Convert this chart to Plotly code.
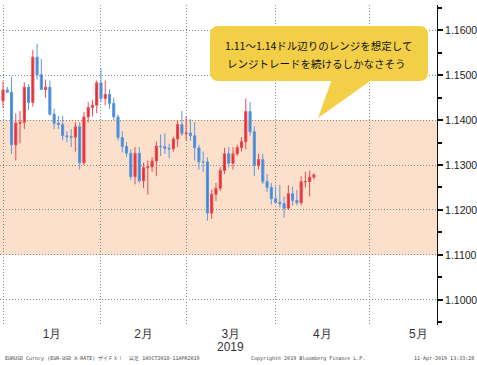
import pandas as pd
import plotly.graph_objects as go

# ---- data (EUR/USD daily) ----
dates = pd.bdate_range("2018-12-31", "2019-04-11")
opens = [1.1443, 1.1467, 1.1462, 1.1345, 1.1393, 1.1395, 1.1473, 1.1439, 1.1540, 1.1501,
         1.1468, 1.1473, 1.1413, 1.1393, 1.1390, 1.1365, 1.1363, 1.1362, 1.1385, 1.1305,
         1.1407, 1.1428, 1.1433, 1.1483, 1.1448, 1.1457, 1.1437, 1.1407, 1.1361, 1.1341,
         1.1326, 1.1274, 1.1326, 1.1265, 1.1294, 1.1296, 1.1309, 1.1342, 1.1341, 1.1337,
         1.1336, 1.1358, 1.1390, 1.1370, 1.1371, 1.1365, 1.1338, 1.1307, 1.1307, 1.1193,
         1.1235, 1.1248, 1.1288, 1.1325, 1.1304, 1.1325, 1.1339, 1.1352, 1.1419, 1.1374,
         1.1299, 1.1312, 1.1263, 1.1250, 1.1225, 1.1217, 1.1214, 1.1204, 1.1236, 1.1221,
         1.1216, 1.1263, 1.1263, 1.1273]
highs = [1.1486, 1.1474, 1.1497, 1.1415, 1.1420, 1.1484, 1.1480, 1.1556, 1.1570, 1.1536,
         1.1490, 1.1488, 1.1425, 1.1409, 1.1410, 1.1375, 1.1380, 1.1395, 1.1395, 1.1418,
         1.1440, 1.1445, 1.1488, 1.1514, 1.1488, 1.1468, 1.1450, 1.1412, 1.1375, 1.1351,
         1.1335, 1.1340, 1.1340, 1.1305, 1.1310, 1.1318, 1.1352, 1.1368, 1.1370, 1.1347,
         1.1363, 1.1400, 1.1420, 1.1408, 1.1402, 1.1395, 1.1345, 1.1330, 1.1317, 1.1245,
         1.1260, 1.1295, 1.1338, 1.1340, 1.1340, 1.1345, 1.1362, 1.1448, 1.1440, 1.1386,
         1.1325, 1.1325, 1.1280, 1.1260, 1.1252, 1.1256, 1.1230, 1.1255, 1.1252, 1.1245,
         1.1275, 1.1285, 1.1288, 1.1282]
lows = [1.1427, 1.1460, 1.1325, 1.1310, 1.1348, 1.1380, 1.1422, 1.1430, 1.1490, 1.1470,
        1.1450, 1.1410, 1.1380, 1.1380, 1.1355, 1.1350, 1.1340, 1.1330, 1.1290, 1.1300,
        1.1395, 1.1408, 1.1415, 1.1440, 1.1433, 1.1425, 1.1400, 1.1355, 1.1328, 1.1318,
        1.1267, 1.1257, 1.1260, 1.1249, 1.1234, 1.1285, 1.1275, 1.1320, 1.1325, 1.1315,
        1.1330, 1.1340, 1.1365, 1.1355, 1.1354, 1.1310, 1.1290, 1.1285, 1.1176, 1.1180,
        1.1220, 1.1242, 1.1280, 1.1295, 1.1290, 1.1320, 1.1330, 1.1335, 1.1365, 1.1275,
        1.1290, 1.1258, 1.1240, 1.1212, 1.1215, 1.1205, 1.1183, 1.1200, 1.1210, 1.1210,
        1.1210, 1.1250, 1.1230, 1.1268]
closes = [1.1467, 1.1462, 1.1345, 1.1393, 1.1395, 1.1473, 1.1439, 1.1540, 1.1501, 1.1468,
          1.1473, 1.1413, 1.1393, 1.1390, 1.1365, 1.1363, 1.1362, 1.1385, 1.1305, 1.1407,
          1.1428, 1.1433, 1.1483, 1.1448, 1.1457, 1.1437, 1.1407, 1.1361, 1.1341, 1.1326,
          1.1274, 1.1326, 1.1265, 1.1294, 1.1296, 1.1309, 1.1342, 1.1341, 1.1337, 1.1336,
          1.1358, 1.1390, 1.1370, 1.1371, 1.1365, 1.1338, 1.1307, 1.1307, 1.1193, 1.1235,
          1.1248, 1.1288, 1.1325, 1.1304, 1.1325, 1.1339, 1.1352, 1.1419, 1.1374, 1.1299,
          1.1312, 1.1263, 1.1250, 1.1225, 1.1217, 1.1214, 1.1204, 1.1236, 1.1221, 1.1216,
          1.1263, 1.1263, 1.1273, 1.1278]

month_labels = ["1月", "2月", "3月", "4月", "5月"]
month_label_pos = ["2019-01-15 12:00", "2019-02-14", "2019-03-14 12:00", "2019-04-15", "2019-05-15 12:00"]
month_grid = ["2018-12-31", "2019-01-31", "2019-02-28", "2019-03-29", "2019-04-30"]
range_low, range_high = 1.11, 1.14
callout_lines = ["1.11～1.14ドル辺りのレンジを想定して", "レンジトレードを続けるしかなさそう"]
footer_left = "EURUSD Curncy (EUR-USD X-RATE) ザイＦＸ！  日足 10OCT2018-11APR2019"
footer_mid = "Copyright© 2019 Bloomberg Finance L.P."
footer_right = "11-Apr-2019 13:33:28"

# ---- figure ----
W, H = 477, 365
L, R, T, B = 0, 40, 5, 40
PW, PH = W - L - R, H - T - B


def px(x):
    return (x - L) / PW


def py(y):
    return (H - B - y) / PH


fig = go.Figure()
fig.add_trace(go.Candlestick(
    x=dates, open=opens, high=highs, low=lows, close=closes,
    increasing=dict(fillcolor="#e62a30", line=dict(color="#ea4a50", width=1)),
    decreasing=dict(fillcolor="#3f86d6", line=dict(color="#5a98de", width=1)),
    whiskerwidth=0, hoverinfo="skip",
))

shapes = [
    dict(type="rect", xref="paper", yref="y", x0=0, x1=1, y0=range_low, y1=range_high,
         fillcolor="#fde0cc", line=dict(width=0), layer="below"),
]
# callout box (rounded) and its pointer
x0, x1, y0, y1, r = 210, 428, 26, 81, 9
rx, ry = r / PW, r / PH
X0, X1, Y0, Y1 = px(x0), px(x1), py(y0), py(y1)
box = (f"M {X0+rx:.5f},{Y0:.5f} L {X1-rx:.5f},{Y0:.5f} Q {X1:.5f},{Y0:.5f} {X1:.5f},{Y0-ry:.5f} "
       f"L {X1:.5f},{Y1+ry:.5f} Q {X1:.5f},{Y1:.5f} {X1-rx:.5f},{Y1:.5f} "
       f"L {X0+rx:.5f},{Y1:.5f} Q {X0:.5f},{Y1:.5f} {X0:.5f},{Y1+ry:.5f} "
       f"L {X0:.5f},{Y0-ry:.5f} Q {X0:.5f},{Y0:.5f} {X0+rx:.5f},{Y0:.5f} Z")
tail = f"M {px(332):.5f},{py(79):.5f} L {px(373):.5f},{py(79):.5f} L {px(318):.5f},{py(118):.5f} Z"
for p in (box, tail):
    shapes.append(dict(type="path", xref="paper", yref="paper", path=p,
                       fillcolor="#f2cf47", line=dict(width=0), layer="above"))

cj = "Noto Sans CJK JP"
annotations = [
    dict(xref="paper", yref="paper", x=px(319), y=py(45), xanchor="center", yanchor="middle",
         text=callout_lines[0], showarrow=False, font=dict(size=10.5, color="#111", family=cj)),
    dict(xref="paper", yref="paper", x=px(316), y=py(63), xanchor="center", yanchor="middle",
         text=callout_lines[1], showarrow=False, font=dict(size=10.5, color="#111", family=cj)),
    dict(xref="x", yref="paper", x=month_label_pos[2], y=py(347), xanchor="center", yanchor="middle",
         text="2019", showarrow=False, font=dict(size=12, color="#333", family="Liberation Sans")),
    dict(xref="paper", yref="paper", x=px(3), y=py(358), xanchor="left", yanchor="middle",
         text=footer_left, showarrow=False, font=dict(size=5, color="#444", family="DejaVu Sans Mono")),
    dict(xref="paper", yref="paper", x=px(308), y=py(358), xanchor="center", yanchor="middle",
         text=footer_mid, showarrow=False, font=dict(size=5, color="#444", family="DejaVu Sans Mono")),
    dict(xref="paper", yref="paper", x=px(476), y=py(358), xanchor="right", yanchor="middle",
         text=footer_right, showarrow=False, font=dict(size=5, color="#444", family="DejaVu Sans Mono")),
]

grid_dash = "1px,2px"
fig.update_layout(
    width=W, height=H, margin=dict(l=L, r=R, t=T, b=B),
    plot_bgcolor="white", paper_bgcolor="white", showlegend=False,
    shapes=shapes, annotations=annotations,
    xaxis=dict(
        type="date", rangeslider=dict(visible=False),
        rangebreaks=[dict(bounds=["sat", "mon"])],
        range=["2018-12-28 07:00", "2019-05-21 21:36"],
        tickmode="array", tickvals=month_label_pos, ticktext=month_labels,
        showgrid=False, ticks="", showline=False, zeroline=False,
        tickfont=dict(size=12, color="#333", family="Liberation Sans"),
        minor=dict(tickmode="array", tickvals=month_grid, showgrid=True,
                   gridcolor="#8a8a8a", griddash=grid_dash, gridwidth=1, ticks=""),
    ),
    yaxis=dict(
        side="right", range=[1.0944, 1.1656], dtick=0.01, tick0=1.10, tickformat=".4f",
        showgrid=True, gridcolor="#8a8a8a", griddash=grid_dash, gridwidth=1,
        showline=True, linecolor="#111", linewidth=1, zeroline=False,
        ticks="outside", ticklen=5, tickwidth=2, tickcolor="#111",
        tickfont=dict(size=10.5, color="#222", family="Liberation Sans"),
        minor=dict(dtick=0.005, ticks="outside", ticklen=4, tickcolor="#111", showgrid=False),
    ),
)

fig.write_html("out.html", config={"displayModeBar": False},
               post_script="document.body.style.margin='0';")
